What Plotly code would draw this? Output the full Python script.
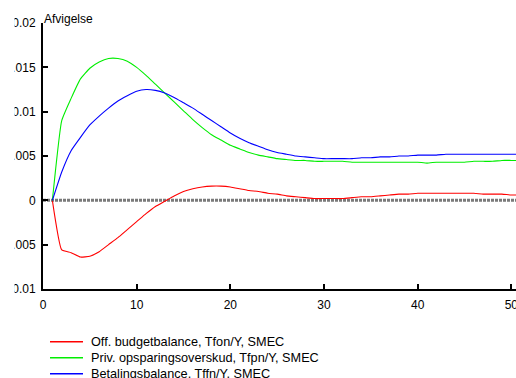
import plotly.graph_objects as go

# Periods after the shock
periods = list(range(1, 52))

# Offentlig budgetbalance (Tfon/Y)
budget = [0.0, -0.0056, -0.0059, -0.0064, -0.0063, -0.0058, -0.0050, -0.0042, -0.0033, -0.0024,
          -0.0015, -0.0007, -0.0001, 0.0005, 0.0010, 0.0013, 0.0015, 0.0016, 0.0016, 0.0015,
          0.0013, 0.0011, 0.0010, 0.0008, 0.0007, 0.0005, 0.0004, 0.0003, 0.0002, 0.0002,
          0.0002, 0.0002, 0.0003, 0.0004, 0.0004, 0.0005, 0.0006, 0.0007, 0.0007, 0.0008,
          0.0008, 0.0008, 0.0008, 0.0008, 0.0008, 0.0008, 0.0007, 0.0007, 0.0007, 0.0006,
          0.0006]

# Privat opsparingsoverskud (Tfpn/Y)
private = [0.0, 0.0090, 0.0115, 0.0137, 0.0149, 0.0156, 0.0160, 0.0160, 0.0157, 0.0150,
           0.0141, 0.0131, 0.0121, 0.0111, 0.0101, 0.0091, 0.0082, 0.0074, 0.0068, 0.0062,
           0.0058, 0.0054, 0.0051, 0.0049, 0.0047, 0.0046, 0.0045, 0.0045, 0.0044, 0.0044,
           0.0044, 0.0044, 0.0043, 0.0043, 0.0043, 0.0043, 0.0043, 0.0043, 0.0043, 0.0043,
           0.0042, 0.0043, 0.0043, 0.0043, 0.0043, 0.0044, 0.0044, 0.0044, 0.0045, 0.0045,
           0.0045]

# Betalingsbalance (Tffn/Y)
external = [0.0, 0.0032, 0.0056, 0.0071, 0.0085, 0.0095, 0.0104, 0.0112, 0.0118, 0.0123,
            0.0125, 0.0124, 0.0121, 0.0116, 0.0110, 0.0104, 0.0097, 0.0090, 0.0083, 0.0076,
            0.0070, 0.0065, 0.0061, 0.0057, 0.0054, 0.0052, 0.0050, 0.0049, 0.0048, 0.0047,
            0.0047, 0.0047, 0.0047, 0.0048, 0.0048, 0.0049, 0.0049, 0.0050, 0.0050, 0.0051,
            0.0051, 0.0051, 0.0052, 0.0052, 0.0052, 0.0052, 0.0052, 0.0052, 0.0052, 0.0052,
            0.0052]

series_names = ["Off. budgetbalance, Tfon/Y, SMEC",
                "Priv. opsparingsoverskud, Tfpn/Y, SMEC",
                "Betalingsbalance, Tffn/Y, SMEC"]
series_colors = ["#ff0000", "#00ee00", "#0000ff"]

y_ticks = [-0.01, -0.005, 0, 0.005, 0.01, 0.015, 0.02]
y_tick_text = ["-0.01", "-0.005", "0", "0.005", "0.01", "0.015", "0.02"]
x_ticks = [0, 10, 20, 30, 40, 50]

font_family = "Liberation Sans, Arial, sans-serif"

# Figure geometry (pixels)
W, H = 516, 378
M_L, M_R, M_T, M_B = 43, 0, 23, 89
PLOT_W = W - M_L - M_R
PLOT_H = H - M_T - M_B


def px_to_paper_x(px):
    return (px - M_L) / PLOT_W


def px_to_paper_y(py):
    return (H - M_B - py) / PLOT_H


fig = go.Figure()
for name, values, color in zip(series_names, [budget, private, external], series_colors):
    fig.add_trace(go.Scatter(x=periods, y=values, mode="lines", name=name,
                             line=dict(color=color, width=1.1, shape="spline", smoothing=0.4),
                             showlegend=False))

# Dotted zero reference line
fig.add_shape(type="line", xref="paper", yref="y", x0=0, x1=1, y0=0, y1=0,
              line=dict(color="#7a7a7a", width=3, dash="3px,1px"), layer="below")

# Left edge of the page is blank; tick labels run off into it
fig.add_shape(type="rect", xref="paper", yref="paper",
              x0=px_to_paper_x(-5), x1=px_to_paper_x(14.5),
              y0=px_to_paper_y(300), y1=px_to_paper_y(-5),
              line=dict(width=0), fillcolor="white", layer="above")

fig.add_annotation(text="Afvigelse", xref="paper", yref="paper", x=0, y=1,
                   xanchor="left", yanchor="bottom", showarrow=False, yshift=-5, xshift=-1,
                   font=dict(size=12, color="black", family=font_family))

# Legend drawn below the axes: short coloured line + label per series
legend_rows_py = [341.7, 357.7, 373.7]
for name, color, py in zip(series_names, series_colors, legend_rows_py):
    yp = px_to_paper_y(py)
    fig.add_shape(type="line", xref="paper", yref="paper",
                  x0=px_to_paper_x(50), x1=px_to_paper_x(83), y0=yp, y1=yp,
                  line=dict(color=color, width=1.5))
    fig.add_annotation(text=name, xref="paper", yref="paper",
                       x=px_to_paper_x(89), y=yp, xanchor="left", yanchor="middle",
                       showarrow=False,
                       font=dict(size=12.7, color="black", family=font_family))

fig.update_layout(
    width=W, height=H,
    margin=dict(l=M_L, r=M_R, t=M_T, b=M_B, autoexpand=False),
    paper_bgcolor="white", plot_bgcolor="white",
    font=dict(family=font_family, size=12, color="black"),
    showlegend=False,
)
fig.update_xaxes(range=[0, 50.5], tickvals=x_ticks, ticks="inside", ticklen=5,
                 tickwidth=1.5, tickcolor="black", showline=True, linecolor="black",
                 linewidth=2, showgrid=False, zeroline=False, ticklabeloverflow="allow",
                 ticklabelstandoff=4,
                 tickfont=dict(size=12, family=font_family))
fig.update_yaxes(range=[-0.01, 0.02], tickvals=y_ticks, ticktext=y_tick_text,
                 ticks="inside", ticklen=5, tickwidth=1.5, tickcolor="black",
                 showline=True, linecolor="black", linewidth=2, showgrid=False,
                 zeroline=False, ticklabeloverflow="allow", ticklabelstandoff=3,
                 tickfont=dict(size=12, family=font_family))

fig.write_html("out.html")
